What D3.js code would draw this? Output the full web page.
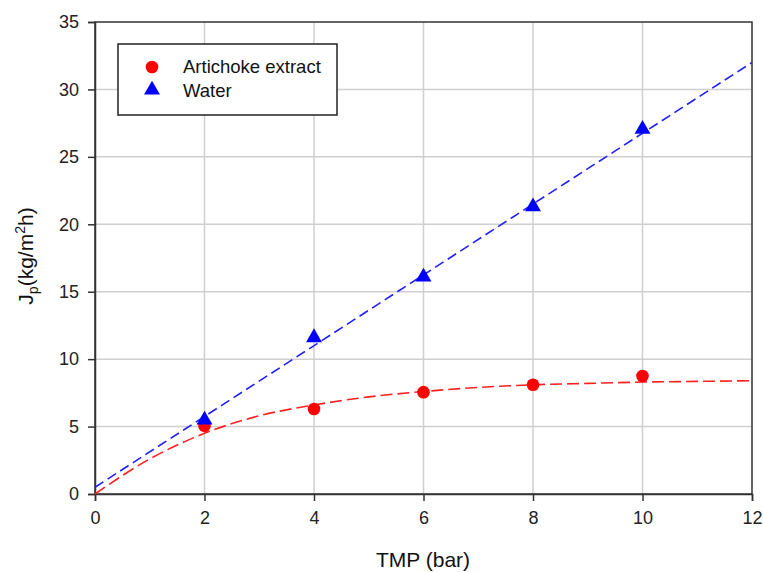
<!DOCTYPE html>
<html>
<head>
<meta charset="utf-8">
<script src="https://cdn.jsdelivr.net/npm/d3@7"></script>
<style>
  body { margin: 0; background: #fff; }
  svg { font-family: "Liberation Sans", Arial, sans-serif; }
</style>
</head>
<body>
<svg id="chart" width="763" height="572"></svg>
<script>
// Measured permeate flux against transmembrane pressure
const tmp = [2, 4, 6, 8, 10];
const artichoke = [5.05, 6.3, 7.55, 8.1, 8.75];
const water = [5.5, 11.6, 16.1, 21.3, 27.05];

// Fitted curves
const waterFitX = [0, 12];
const waterFitY = [0.5, 32.0];
const artichokeFitX = [0, 1, 2, 3, 4, 5, 6, 7, 8, 9, 10, 11, 12];
const artichokeFitY = [0, 2.6, 4.5, 5.8, 6.6, 7.2, 7.6, 7.9, 8.1, 8.2, 8.3, 8.35, 8.4];

const xTicks = [0, 2, 4, 6, 8, 10, 12];
const yTicks = [0, 5, 10, 15, 20, 25, 30, 35];
const seriesNames = ["Artichoke extract", "Water"];

const svg = d3.select("#chart");
const plotL = 95, plotR = 752, plotT = 22, plotB = 494;

const x = d3.scaleLinear().domain([0, 12]).range([plotL, plotR]);
const y = d3.scaleLinear().domain([0, 35]).range([plotB, plotT]);

// grid
svg.append("g").selectAll("line").data(xTicks.slice(1, -1)).join("line")
  .attr("x1", d => x(d)).attr("x2", d => x(d))
  .attr("y1", plotT).attr("y2", plotB)
  .attr("stroke", "#cfcfcf").attr("stroke-width", 1.5);
svg.append("g").selectAll("line").data(yTicks.slice(1, -1)).join("line")
  .attr("x1", plotL).attr("x2", plotR)
  .attr("y1", d => y(d)).attr("y2", d => y(d))
  .attr("stroke", "#cfcfcf").attr("stroke-width", 1.5);

// frame
svg.append("rect")
  .attr("x", plotL).attr("y", plotT)
  .attr("width", plotR - plotL).attr("height", plotB - plotT)
  .attr("fill", "none").attr("stroke", "#333").attr("stroke-width", 1.5);

// axes
const xAxis = svg.append("g").attr("transform", `translate(0,${plotB})`)
  .call(d3.axisBottom(x).tickValues(xTicks).tickSize(7).tickPadding(10).tickFormat(d3.format("d")));
const yAxis = svg.append("g").attr("transform", `translate(${plotL},0)`)
  .call(d3.axisLeft(y).tickValues(yTicks).tickSize(7).tickPadding(9).tickFormat(d3.format("d")));
[xAxis, yAxis].forEach(a => {
  a.select(".domain").attr("stroke", "#333").attr("stroke-width", 1.5);
  a.selectAll(".tick line").attr("stroke", "#333").attr("stroke-width", 1.5);
  a.selectAll(".tick text").attr("font-size", 18).attr("fill", "#222")
    .attr("font-family", "'Liberation Sans', Arial, sans-serif");
});

// fitted lines
const artFit = artichokeFitX.map((v, i) => [v, artichokeFitY[i]]);
const waterFit = waterFitX.map((v, i) => [v, waterFitY[i]]);
svg.append("path").datum(artFit)
  .attr("d", d3.line().x(d => x(d[0])).y(d => y(d[1])).curve(d3.curveMonotoneX))
  .attr("fill", "none").attr("stroke", "#ff2020").attr("stroke-width", 1.6)
  .attr("stroke-dasharray", "12,5");
svg.append("path").datum(waterFit)
  .attr("d", d3.line().x(d => x(d[0])).y(d => y(d[1])))
  .attr("fill", "none").attr("stroke", "#2020ff").attr("stroke-width", 1.6)
  .attr("stroke-dasharray", "10,5");

// markers
const circleSym = d3.symbol().type(d3.symbolCircle).size(125);
const triSym = d3.symbol().type(d3.symbolTriangle).size(110);
svg.append("g").selectAll("path").data(tmp).join("path")
  .attr("transform", (d, i) => `translate(${x(d)},${y(artichoke[i])})`)
  .attr("d", circleSym).attr("fill", "#ff0000");
svg.append("g").selectAll("path").data(tmp).join("path")
  .attr("transform", (d, i) => `translate(${x(d)},${y(water[i])})`)
  .attr("d", triSym).attr("fill", "#0000ff");

// legend
const lg = svg.append("g");
lg.append("rect").attr("x", 118).attr("y", 44).attr("width", 219).attr("height", 71)
  .attr("fill", "#fff").attr("stroke", "#222").attr("stroke-width", 1.5);
lg.append("path").attr("transform", "translate(152,67)").attr("d", circleSym).attr("fill", "#ff0000");
lg.append("path").attr("transform", "translate(152,90)").attr("d", triSym).attr("fill", "#0000ff");
lg.selectAll("text").data(seriesNames).join("text")
  .attr("x", 183).attr("y", (d, i) => 73 + i * 23.5)
  .attr("font-size", 18.5).attr("fill", "#111").text(d => d);

// axis titles
svg.append("text").attr("x", 423).attr("y", 567)
  .attr("text-anchor", "middle").attr("font-size", 21).attr("fill", "#111")
  .text("TMP (bar)");
const yl = svg.append("text")
  .attr("transform", `translate(33,256) rotate(-90)`)
  .attr("text-anchor", "middle").attr("font-size", 21).attr("fill", "#111");
yl.append("tspan").text("J");
yl.append("tspan").attr("dy", 5).attr("font-size", 14).text("p");
yl.append("tspan").attr("dy", -5).text("(kg/m");
yl.append("tspan").attr("dy", -8).attr("font-size", 14).text("2");
yl.append("tspan").attr("dy", 8).text("h)");
</script>
</body>
</html>
